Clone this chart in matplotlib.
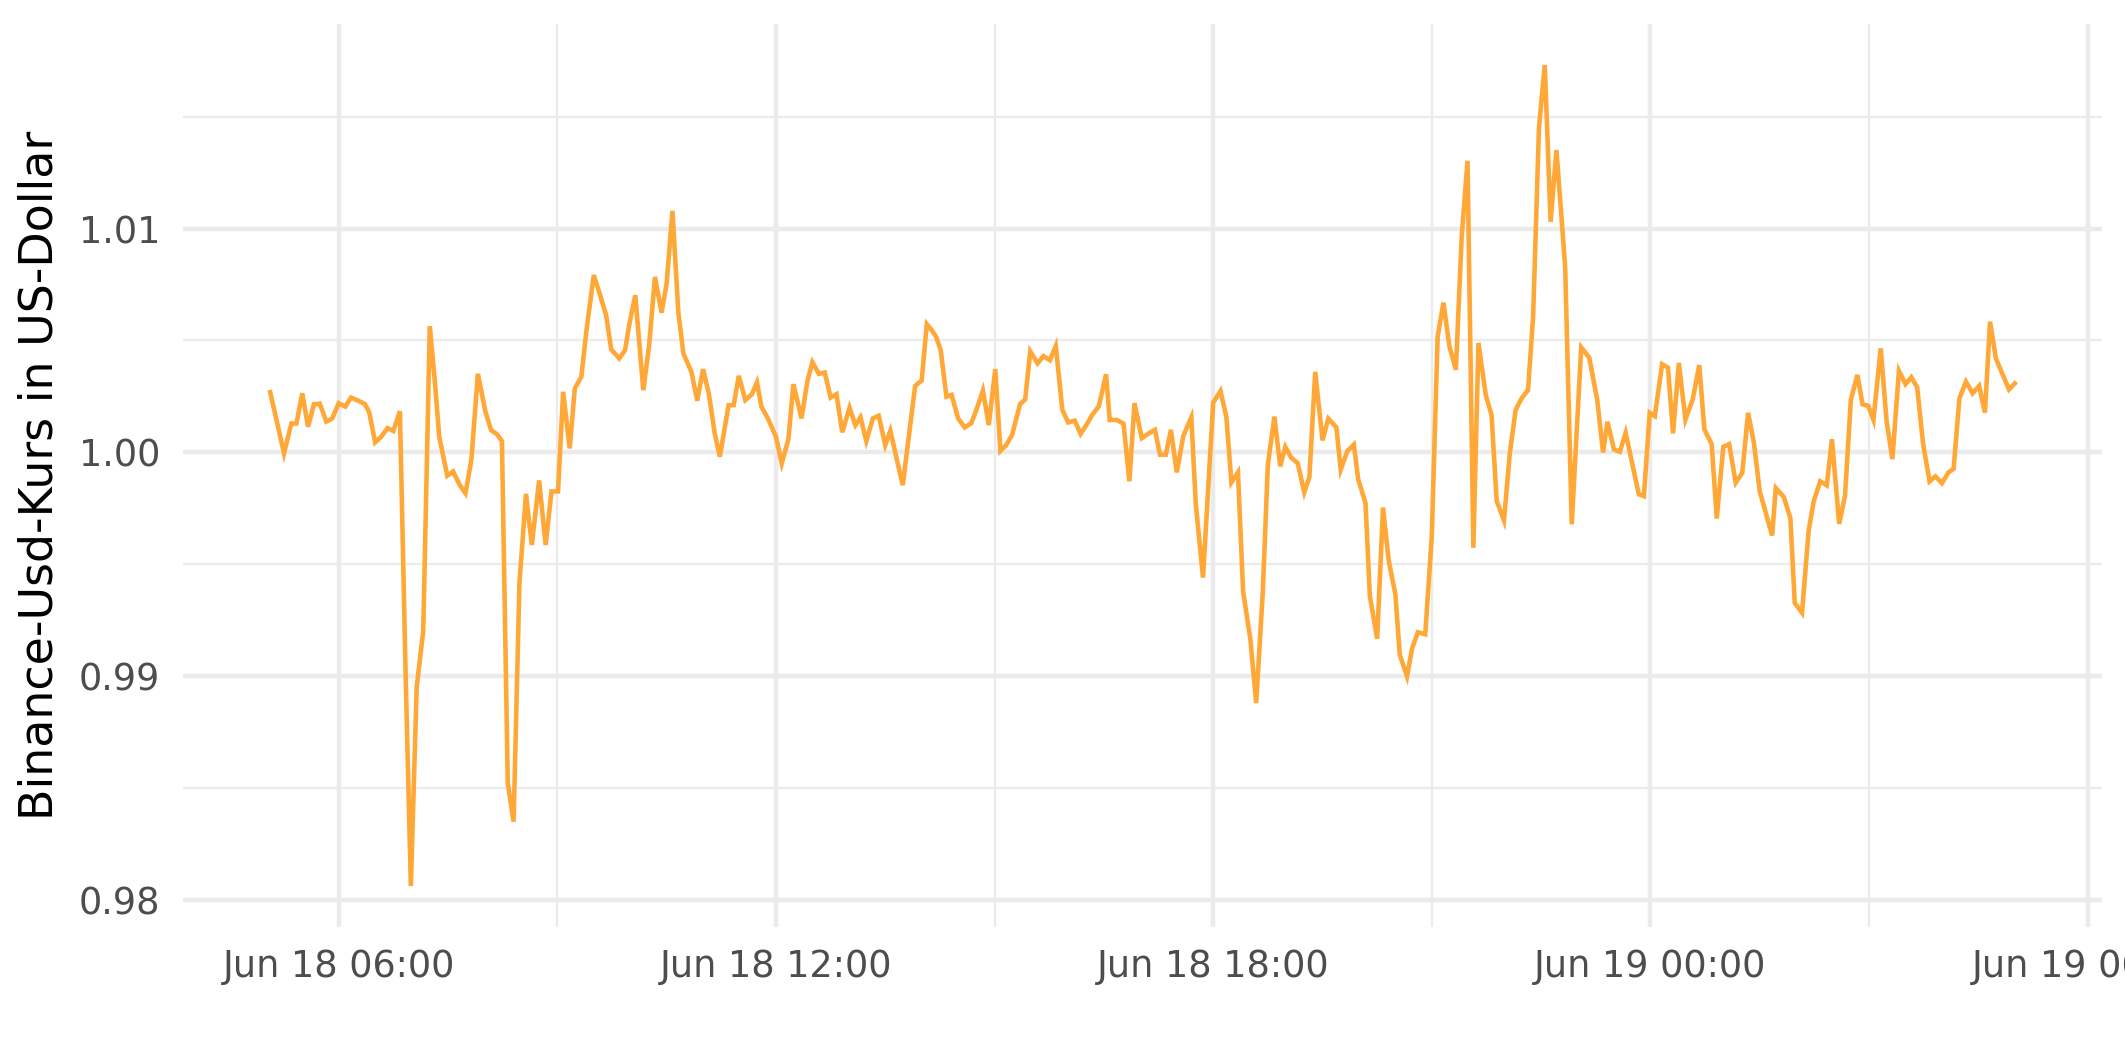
import pandas as pd
import matplotlib
matplotlib.use("Agg")
import matplotlib.pyplot as plt
import matplotlib.dates as mdates
from matplotlib.ticker import MultipleLocator

# Zeitpunkte (Stunden ab 18. Juni 00:00) und Kurswerte
stunden = [
	5.06, 5.25, 5.35, 5.42, 5.50, 5.58, 5.66, 5.74, 5.83, 5.91,
	6.00, 6.09, 6.17, 6.27, 6.36, 6.42, 6.50, 6.58, 6.67, 6.75,
	6.84, 6.92, 6.99, 7.07, 7.16, 7.25, 7.32, 7.38, 7.49, 7.57,
	7.66, 7.74, 7.82, 7.91, 8.01, 8.09, 8.17, 8.24, 8.32, 8.40,
	8.48, 8.57, 8.65, 8.75, 8.84, 8.92, 9.01, 9.08, 9.17, 9.24,
	9.33, 9.40, 9.50, 9.58, 9.67, 9.74, 9.85, 9.93, 9.99, 10.07,
	10.18, 10.26, 10.34, 10.43, 10.50, 10.58, 10.66, 10.73, 10.84, 10.92,
	11.00, 11.08, 11.16, 11.23, 11.35, 11.42, 11.49, 11.58, 11.67, 11.74,
	11.80, 11.89, 12.00, 12.08, 12.17, 12.24, 12.35, 12.43, 12.50, 12.59,
	12.67, 12.75, 12.83, 12.91, 13.01, 13.09, 13.16, 13.24, 13.33, 13.41,
	13.50, 13.57, 13.65, 13.74, 13.82, 13.91, 14.00, 14.07, 14.14, 14.20,
	14.26, 14.34, 14.41, 14.50, 14.59, 14.68, 14.75, 14.84, 14.92, 15.01,
	15.08, 15.16, 15.24, 15.35, 15.42, 15.49, 15.59, 15.67, 15.76, 15.84,
	15.93, 16.01, 16.10, 16.18, 16.26, 16.34, 16.43, 16.53, 16.58, 16.68,
	16.77, 16.85, 16.92, 17.02, 17.12, 17.20, 17.27, 17.35, 17.42, 17.50,
	17.59, 17.70, 17.76, 17.86, 18.00, 18.10, 18.18, 18.25, 18.34, 18.41,
	18.51, 18.59, 18.68, 18.75, 18.84, 18.92, 18.99, 19.07, 19.16, 19.25,
	19.32, 19.40, 19.50, 19.58, 19.69, 19.75, 19.84, 19.93, 19.99, 20.09,
	20.15, 20.25, 20.33, 20.41, 20.50, 20.56, 20.66, 20.73, 20.81, 20.91,
	21.00, 21.08, 21.16, 21.24, 21.33, 21.41, 21.49, 21.57, 21.64, 21.74,
	21.82, 21.89, 21.99, 22.07, 22.15, 22.24, 22.32, 22.39, 22.47, 22.55,
	22.63, 22.71, 22.83, 22.92, 23.05, 23.16, 23.27, 23.35, 23.41, 23.50,
	23.58, 23.66, 23.76, 23.84, 23.91, 23.99, 24.06, 24.16, 24.24, 24.31,
	24.39, 24.48, 24.58, 24.67, 24.74, 24.84, 24.91, 25.00, 25.08, 25.17,
	25.26, 25.34, 25.42, 25.50, 25.58, 25.67, 25.72, 25.83, 25.92, 25.98,
	26.08, 26.17, 26.24, 26.33, 26.42, 26.49, 26.59, 26.67, 26.75, 26.84,
	26.91, 26.99, 27.06, 27.16, 27.24, 27.32, 27.41, 27.50, 27.58, 27.66,
	27.74, 27.83, 27.91, 28.00, 28.09, 28.16, 28.24, 28.33, 28.42, 28.51,
	28.59, 28.66, 28.74, 28.83, 28.92, 29.00,
]

kurs = [
	1.00269, 0.99996, 1.00129, 1.00129, 1.00264, 1.00115, 1.00215, 1.00218, 1.00138, 1.00151,
	1.00220, 1.00205, 1.00245, 1.00231, 1.00216, 1.00178, 1.00045, 1.00069, 1.00109, 1.00096,
	1.00184, 0.98987, 0.98064, 0.98951, 0.99202, 1.00564, 1.00315, 1.00069, 0.99896, 0.99915,
	0.99855, 0.99818, 0.99965, 1.00351, 1.00187, 1.00100, 1.00082, 1.00051, 0.98524, 0.98351,
	0.99415, 0.99815, 0.99587, 0.99875, 0.99587, 0.99826, 0.99826, 1.00271, 1.00018, 1.00286,
	1.00338, 1.00546, 1.00792, 1.00710, 1.00613, 1.00460, 1.00420, 1.00457, 1.00576, 1.00702,
	1.00278, 1.00479, 1.00784, 1.00624, 1.00754, 1.01079, 1.00628, 1.00442, 1.00360, 1.00231,
	1.00372, 1.00260, 1.00085, 0.99981, 1.00211, 1.00211, 1.00342, 1.00234, 1.00260, 1.00313,
	1.00204, 1.00152, 1.00070, 0.99951, 1.00058, 1.00305, 1.00152, 1.00316, 1.00403, 1.00351,
	1.00357, 1.00245, 1.00260, 1.00090, 1.00200, 1.00122, 1.00157, 1.00051, 1.00152, 1.00164,
	1.00033, 1.00097, 0.99981, 0.99854, 1.00063, 1.00297, 1.00321, 1.00573, 1.00545, 1.00515,
	1.00458, 1.00249, 1.00257, 1.00152, 1.00112, 1.00130, 1.00190, 1.00276, 1.00122, 1.00372,
	1.00007, 1.00033, 1.00078, 1.00216, 1.00237, 1.00451, 1.00398, 1.00430, 1.00412, 1.00475,
	1.00190, 1.00134, 1.00142, 1.00083, 1.00123, 1.00168, 1.00205, 1.00349, 1.00145, 1.00145,
	1.00128, 0.99871, 1.00220, 1.00064, 1.00086, 1.00101, 0.99990, 0.99990, 1.00101, 0.99911,
	1.00074, 1.00157, 0.99774, 0.99441, 1.00223, 1.00274, 1.00160, 0.99866, 0.99911, 0.99381,
	0.99166, 0.98881, 0.99374, 0.99945, 1.00160, 0.99938, 1.00025, 0.99977, 0.99952, 0.99822,
	0.99890, 1.00360, 1.00054, 1.00151, 1.00112, 0.99923, 1.00006, 1.00035, 0.99880, 0.99774,
	0.99358, 0.99168, 0.99754, 0.99513, 0.99367, 0.99097, 0.99000, 0.99126, 0.99197, 0.99188,
	0.99629, 1.00518, 1.00669, 1.00476, 1.00369, 1.00963, 1.01302, 0.99574, 1.00489, 1.00257,
	1.00166, 0.99783, 0.99696, 0.99996, 1.00190, 1.00246, 1.00278, 1.00606, 1.01450, 1.01730,
	1.01030, 1.01350, 1.00829, 0.99679, 1.00469, 1.00424, 1.00234, 1.00000, 1.00137, 1.00013,
	1.00003, 1.00088, 0.99936, 0.99813, 0.99805, 1.00177, 1.00162, 1.00394, 1.00379, 1.00085,
	1.00400, 1.00147, 1.00237, 1.00390, 1.00103, 1.00037, 0.99705, 1.00025, 1.00037, 0.99865,
	0.99909, 1.00177, 1.00042, 0.99826, 0.99733, 0.99629, 0.99841, 0.99801, 0.99707, 0.99328,
	0.99284, 0.99648, 0.99782, 0.99871, 0.99853, 1.00059, 0.99681, 0.99807, 1.00235, 1.00346,
	1.00215, 1.00208, 1.00146, 1.00465, 1.00141, 0.99970, 1.00364, 1.00305, 1.00336, 1.00291,
	1.00042, 0.99871, 0.99893, 0.99863, 0.99911, 0.99927, 1.00242, 1.00316, 1.00264, 1.00297,
	1.00178, 1.00584, 1.00420, 1.00350, 1.00281, 1.00308,
]

start = pd.Timestamp("2022-06-18 00:00")
zeit = [start + pd.Timedelta(hours=h) for h in stunden]

plt.rcParams['font.family'] = ['DejaVu Sans']

fig = plt.figure(figsize=(2125 / 300, 1062 / 300), dpi=300)
ax = fig.add_axes([0.0861, 0.1271, 0.9892 - 0.0861, 0.9774 - 0.1271])

ax.plot(zeit, kurs, color="#ffa838", linewidth=1.1, solid_joinstyle="miter")
ax.margins(x=0.05, y=0.05)

# Achsen im Stil von theme_minimal
for s in ax.spines.values():
	s.set_visible(False)
ax.set_axisbelow(True)

ax.xaxis.set_major_locator(mdates.HourLocator(byhour=[0, 6, 12, 18]))
ax.xaxis.set_minor_locator(mdates.HourLocator(byhour=[3, 9, 15, 21]))
ax.xaxis.set_major_formatter(mdates.DateFormatter("%b %d %H:%M"))
ax.yaxis.set_major_locator(MultipleLocator(0.01))
ax.yaxis.set_minor_locator(MultipleLocator(0.005))
ax.yaxis.set_major_formatter(matplotlib.ticker.FormatStrFormatter("%.2f"))

ax.grid(which="major", color="#ebebeb", linewidth=1.07)
ax.grid(which="minor", color="#ebebeb", linewidth=0.53)
ax.tick_params(which="both", length=0)
ax.tick_params(axis="x", labelsize=8.8, labelcolor="#4d4d4d", pad=5)
ax.tick_params(axis="y", labelsize=8.8, labelcolor="#4d4d4d", pad=5.5)

fig.text(40 / 2125, 0.552, "Binance-Usd-Kurs in US-Dollar", rotation=90,
	ha="center", va="center", fontsize=11, color="black")

fig.savefig("out.png", dpi=300)
